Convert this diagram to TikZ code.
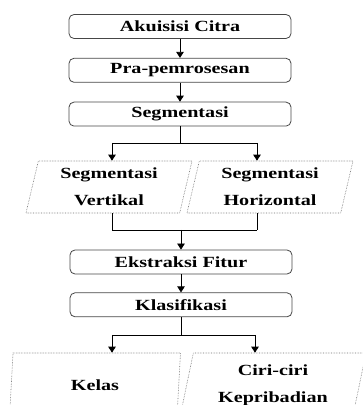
\documentclass[tikz,border=0pt]{standalone}
\usepackage{fontspec}
\setmainfont{Liberation Serif}[FakeStretch=1.3]
\usetikzlibrary{shapes.geometric, arrows.meta, positioning}
\definecolor{boxgray}{RGB}{70,70,70}
\definecolor{dotgray}{RGB}{110,110,110}
\tikzset{
  stage/.style={rectangle, rounded corners=5pt, minimum width=222pt,
    minimum height=24pt, inner sep=0pt, draw=boxgray, line width=0.8pt,
    font=\fontsize{15.5}{18}\selectfont\bfseries},
  outbox/.style={trapezium, trapezium left angle=72, trapezium right angle=108,
    trapezium stretches body, draw=dotgray, densely dotted, line width=0.6pt,
    inner sep=0pt, align=center, font=\fontsize{15.5}{27}\selectfont\bfseries},
  link/.style={line width=0.8pt},
  arrow/.style={-{Triangle[length=6pt, width=7.5pt]}, line width=0.8pt},
}
\begin{document}
\begin{tikzpicture}[x=1pt, y=1pt, node distance=19pt]
  \useasboundingbox (0,0) rectangle (363,405);
  \clip (0,0) rectangle (363,405);
  \node[stage] (akuisisi) at (180,378.5) {Akuisisi Citra};
  \node[stage, below=of akuisisi] (pra) {Pra-pemrosesan};
  \node[stage, below=of pra] (segm) {Segmentasi};
  \node[outbox, minimum width=166pt, minimum height=52pt]
    (vert) at (109,218) {Segmentasi\\Vertikal};
  \node[outbox, minimum width=166pt, minimum height=52pt]
    (horz) at (270,218) {Segmentasi\\Horizontal};
  \node[stage] (fitur) at (181,143) {Ekstraksi Fitur};
  \node[stage, below=18pt of fitur] (klas) {Klasifikasi};
  \node[outbox, minimum width=171pt, minimum height=64pt]
    (kelas) at (95,20) {Kelas};
  \node[outbox, minimum width=186pt, minimum height=64pt]
    (ciri) at (273,20) {Ciri-ciri\\Kepribadian};
  % branch points
  \coordinate (forkA) at (112,262);
  \coordinate (forkB) at (257,262);
  \coordinate (joinA) at (112,175);
  \coordinate (joinB) at (257,175);
  \coordinate (forkC) at (112,70);
  \coordinate (forkD) at (255,70);
  \draw[arrow] (akuisisi) -- (pra);
  \draw[arrow] (pra) -- (segm);
  \draw[link] (segm.south) -- (segm.south |- forkA);
  \draw[link] (forkA) -- (forkB);
  \draw[arrow] (forkA) -- (forkA |- vert.north);
  \draw[arrow] (forkB) -- (forkB |- horz.north);
  \draw[link] (forkA |- vert.south) -- (joinA);
  \draw[link] (forkB |- horz.south) -- (joinB);
  \draw[link] (joinA) -- (joinB);
  \draw[arrow] (fitur.north |- joinA) -- (fitur.north);
  \draw[arrow] (fitur) -- (klas);
  \draw[link] (klas.south) -- (klas.south |- forkC);
  \draw[link] (forkC) -- (forkD);
  \draw[arrow] (forkC) -- (forkC |- kelas.north);
  \draw[arrow] (forkD) -- (forkD |- ciri.north);
\end{tikzpicture}
\end{document}
